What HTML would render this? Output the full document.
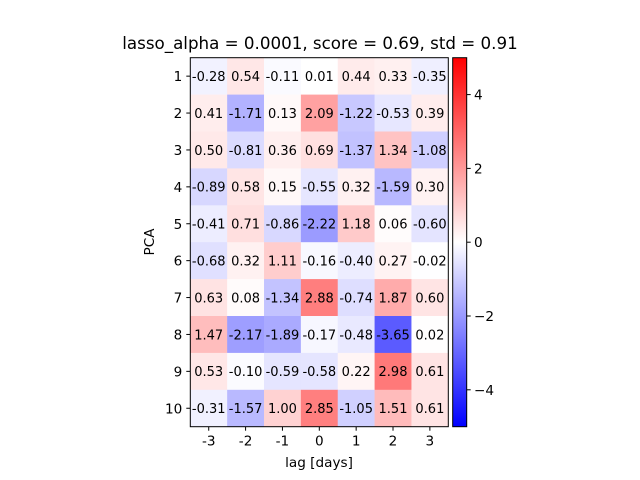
<!DOCTYPE html>
<html><head><meta charset="utf-8"><style>
body{margin:0;background:#fff;}
svg{display:block;font-family:"DejaVu Sans","Liberation Sans",sans-serif;}
</style></head><body>
<svg id="chart" width="640" height="480" viewBox="0 0 640 480">
<defs><linearGradient id="cb" x1="0" y1="1" x2="0" y2="0">
<stop offset="0" stop-color="#0000ff"/><stop offset="0.5" stop-color="#ffffff"/><stop offset="1" stop-color="#ff0000"/>
</linearGradient></defs>
<text x="320" y="49" font-size="16.7" text-anchor="middle">lasso_alpha = 0.0001, score = 0.69, std = 0.91</text>
<g id="cells"></g>
<g id="axes"></g>
<rect x="452.7" y="57.7" width="14" height="369" fill="url(#cb)" stroke="#000" stroke-width="1"/>
<g id="cbticks"></g>
<text x="319" y="467" font-size="13.6" text-anchor="middle">lag [days]</text>
<text x="154" y="242" font-size="13.6" text-anchor="middle" transform="rotate(-90 154 242)">PCA</text>
</svg>
<script>
const lags = ["-3","-2","-1","0","1","2","3"];
const pcs = ["1","2","3","4","5","6","7","8","9","10"];
const values = [
[-0.28,0.54,-0.11,0.01,0.44,0.33,-0.35],
[0.41,-1.71,0.13,2.09,-1.22,-0.53,0.39],
[0.50,-0.81,0.36,0.69,-1.37,1.34,-1.08],
[-0.89,0.58,0.15,-0.55,0.32,-1.59,0.30],
[-0.41,0.71,-0.86,-2.22,1.18,0.06,-0.60],
[-0.68,0.32,1.11,-0.16,-0.40,0.27,-0.02],
[0.63,0.08,-1.34,2.88,-0.74,1.87,0.60],
[1.47,-2.17,-1.89,-0.17,-0.48,-3.65,0.02],
[0.53,-0.10,-0.59,-0.58,0.22,2.98,0.61],
[-0.31,-1.57,1.00,2.85,-1.05,1.51,0.61]
];
const cbTicks = [-4,-2,0,2,4];
const vmin=-5, vmax=5;
const L=190.3, R=448.3, T=57.7, B=426.7;
const cw=(R-L)/lags.length, ch=(B-T)/pcs.length;
const xc=i=>L+cw*(i+0.5), yc=j=>T+ch*(j+0.5);
const cbY=v=>B-(v-vmin)/(vmax-vmin)*(B-T);
const NS="http://www.w3.org/2000/svg";
function color(v){
  const t=Math.max(-1,Math.min(1,v/vmax))*0.88;
  let r,g,b;
  if(t<0){r=g=Math.round(255*(1+t));b=255;}else{r=255;g=b=Math.round(255*(1-t));}
  return `rgb(${r},${g},${b})`;
}
function mk(tag,attrs,parent){const e=document.createElementNS(NS,tag);for(const k in attrs)e.setAttribute(k,attrs[k]);parent.appendChild(e);return e;}
const cells=document.getElementById('cells');
values.forEach((row,j)=>row.forEach((v,i)=>{
  const r=mk('rect',{x:L+cw*i,y:T+ch*j,width:cw+0.3,height:ch+0.3,fill:color(v)},cells);
  
  
  const t=mk('text',{x:xc(i),y:yc(j)+4.8,'font-size':'13','text-anchor':'middle',fill:'#000'},cells);
  
  
  t.textContent=v.toFixed(2);
}));
const axes=document.getElementById('axes');
const fr=mk('rect',{x:L,y:T,width:R-L,height:B-T,fill:'none',stroke:'#000','stroke-width':1},axes);


lags.forEach((s,i)=>{
  mk('line',{x1:xc(i),x2:xc(i),y1:B,y2:B+4,stroke:'#000'},axes);
  const t=mk('text',{x:xc(i),y:B+19,'font-size':'13.6','text-anchor':'middle'},axes);
  
  
  t.textContent=s;
});
pcs.forEach((s,j)=>{
  mk('line',{x1:L-4,x2:L,y1:yc(j),y2:yc(j),stroke:'#000'},axes);
  const t=mk('text',{x:L-8,y:yc(j)+5,'font-size':'13.6','text-anchor':'end'},axes);
  
  
  t.textContent=s;
});
const cbt=document.getElementById('cbticks');
cbTicks.forEach(v=>{
  mk('line',{x1:466.7,x2:470.7,y1:cbY(v),y2:cbY(v),stroke:'#000'},cbt);
  const t=mk('text',{x:474,y:cbY(v)+5,'font-size':'13.6'},cbt);
  
  
  t.textContent=v<0?'\u2212'+Math.abs(v):String(v);
});
</script>
</body></html>
